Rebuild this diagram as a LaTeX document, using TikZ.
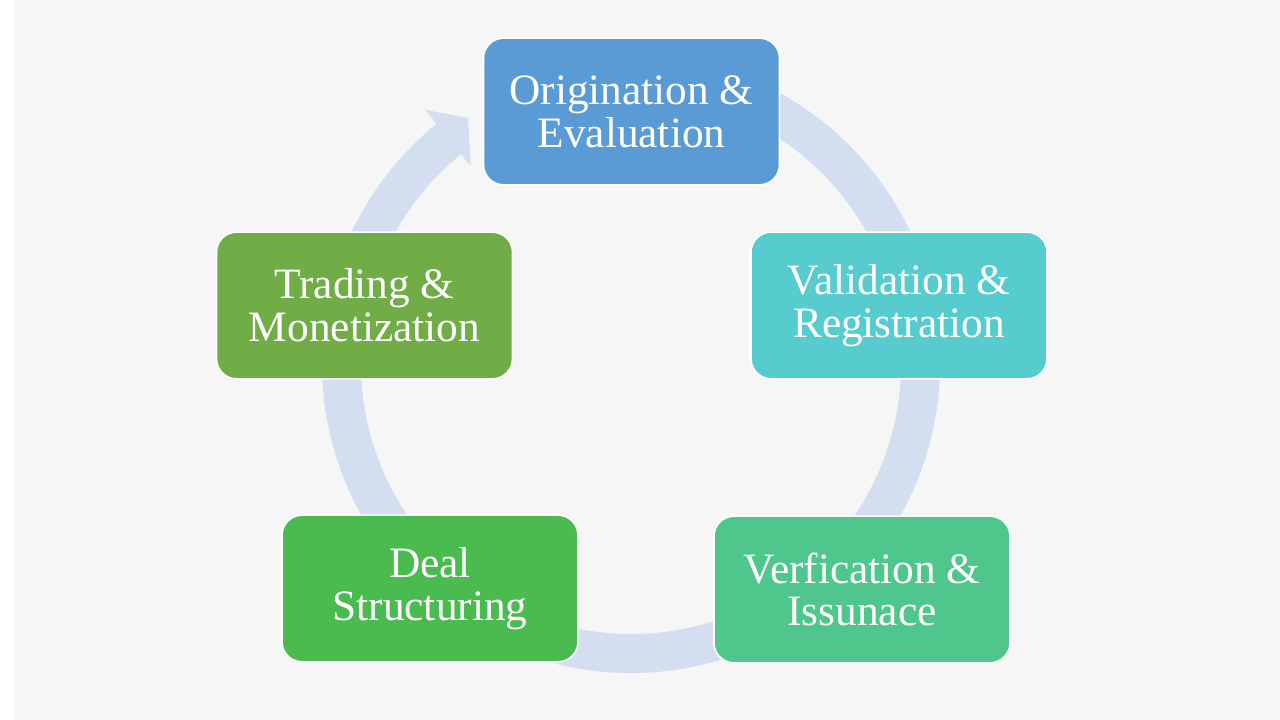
\documentclass[tikz,border=0pt]{standalone}
\usepackage{fontspec}
\setmainfont{Liberation Serif}

\definecolor{origblue}{HTML}{5B9BD5}
\definecolor{validcyan}{HTML}{56CCCF}
\definecolor{verifgreen}{HTML}{4FC68B}
\definecolor{dealgreen}{HTML}{4ABB4F}
\definecolor{tradegreen}{HTML}{70AD47}
\definecolor{ringblue}{HTML}{D3DEF0}
\definecolor{backgray}{HTML}{F6F6F6}

\tikzset{
  stagebox/.style={draw=white, line width=1.2pt, rounded corners=15pt,
    minimum width=222pt, minimum height=110pt, inner sep=0pt,
    align=center, text=white, font=\fontsize{32.5}{32}\selectfont}
}

\begin{document}
\begin{tikzpicture}[x=0.75pt,y=-0.75pt]
	% Background
	\useasboundingbox (0,0) rectangle (1280,720);
	\fill[white] (0,0) rectangle (1280,720);
	\fill[backgray] (14,0) rectangle (1280,720);
	
	% Ring with arrowhead
	\coordinate (hub) at (631,364);
	\begin{scope}[shift={(hub)}]
		\fill[ringblue] (-85:309) arc[start angle=-85, end angle=231, radius=309]
			-- (231:327) -- (236.5:295) -- (231:255) -- (231:270)
			arc[start angle=231, end angle=-85, radius=270] -- cycle;
	\end{scope}
	
	% Stages
	\node[stagebox, fill=origblue] (orig) at (631.5,111.5) {Origination \&\\Evaluation};
	\node[stagebox, fill=validcyan] (valid) at (899,305.5) {Validation \&\\Registration};
	\node[stagebox, fill=verifgreen] (verif) at (862,589.5) {Verfication \&\\Issunace};
	\node[stagebox, fill=dealgreen] (deal) at (430,588.5) {Deal\\Structuring};
	\node[stagebox, fill=tradegreen] (trade) at (364.5,305.5) {Trading \&\\Monetization};
\end{tikzpicture}
\end{document}
